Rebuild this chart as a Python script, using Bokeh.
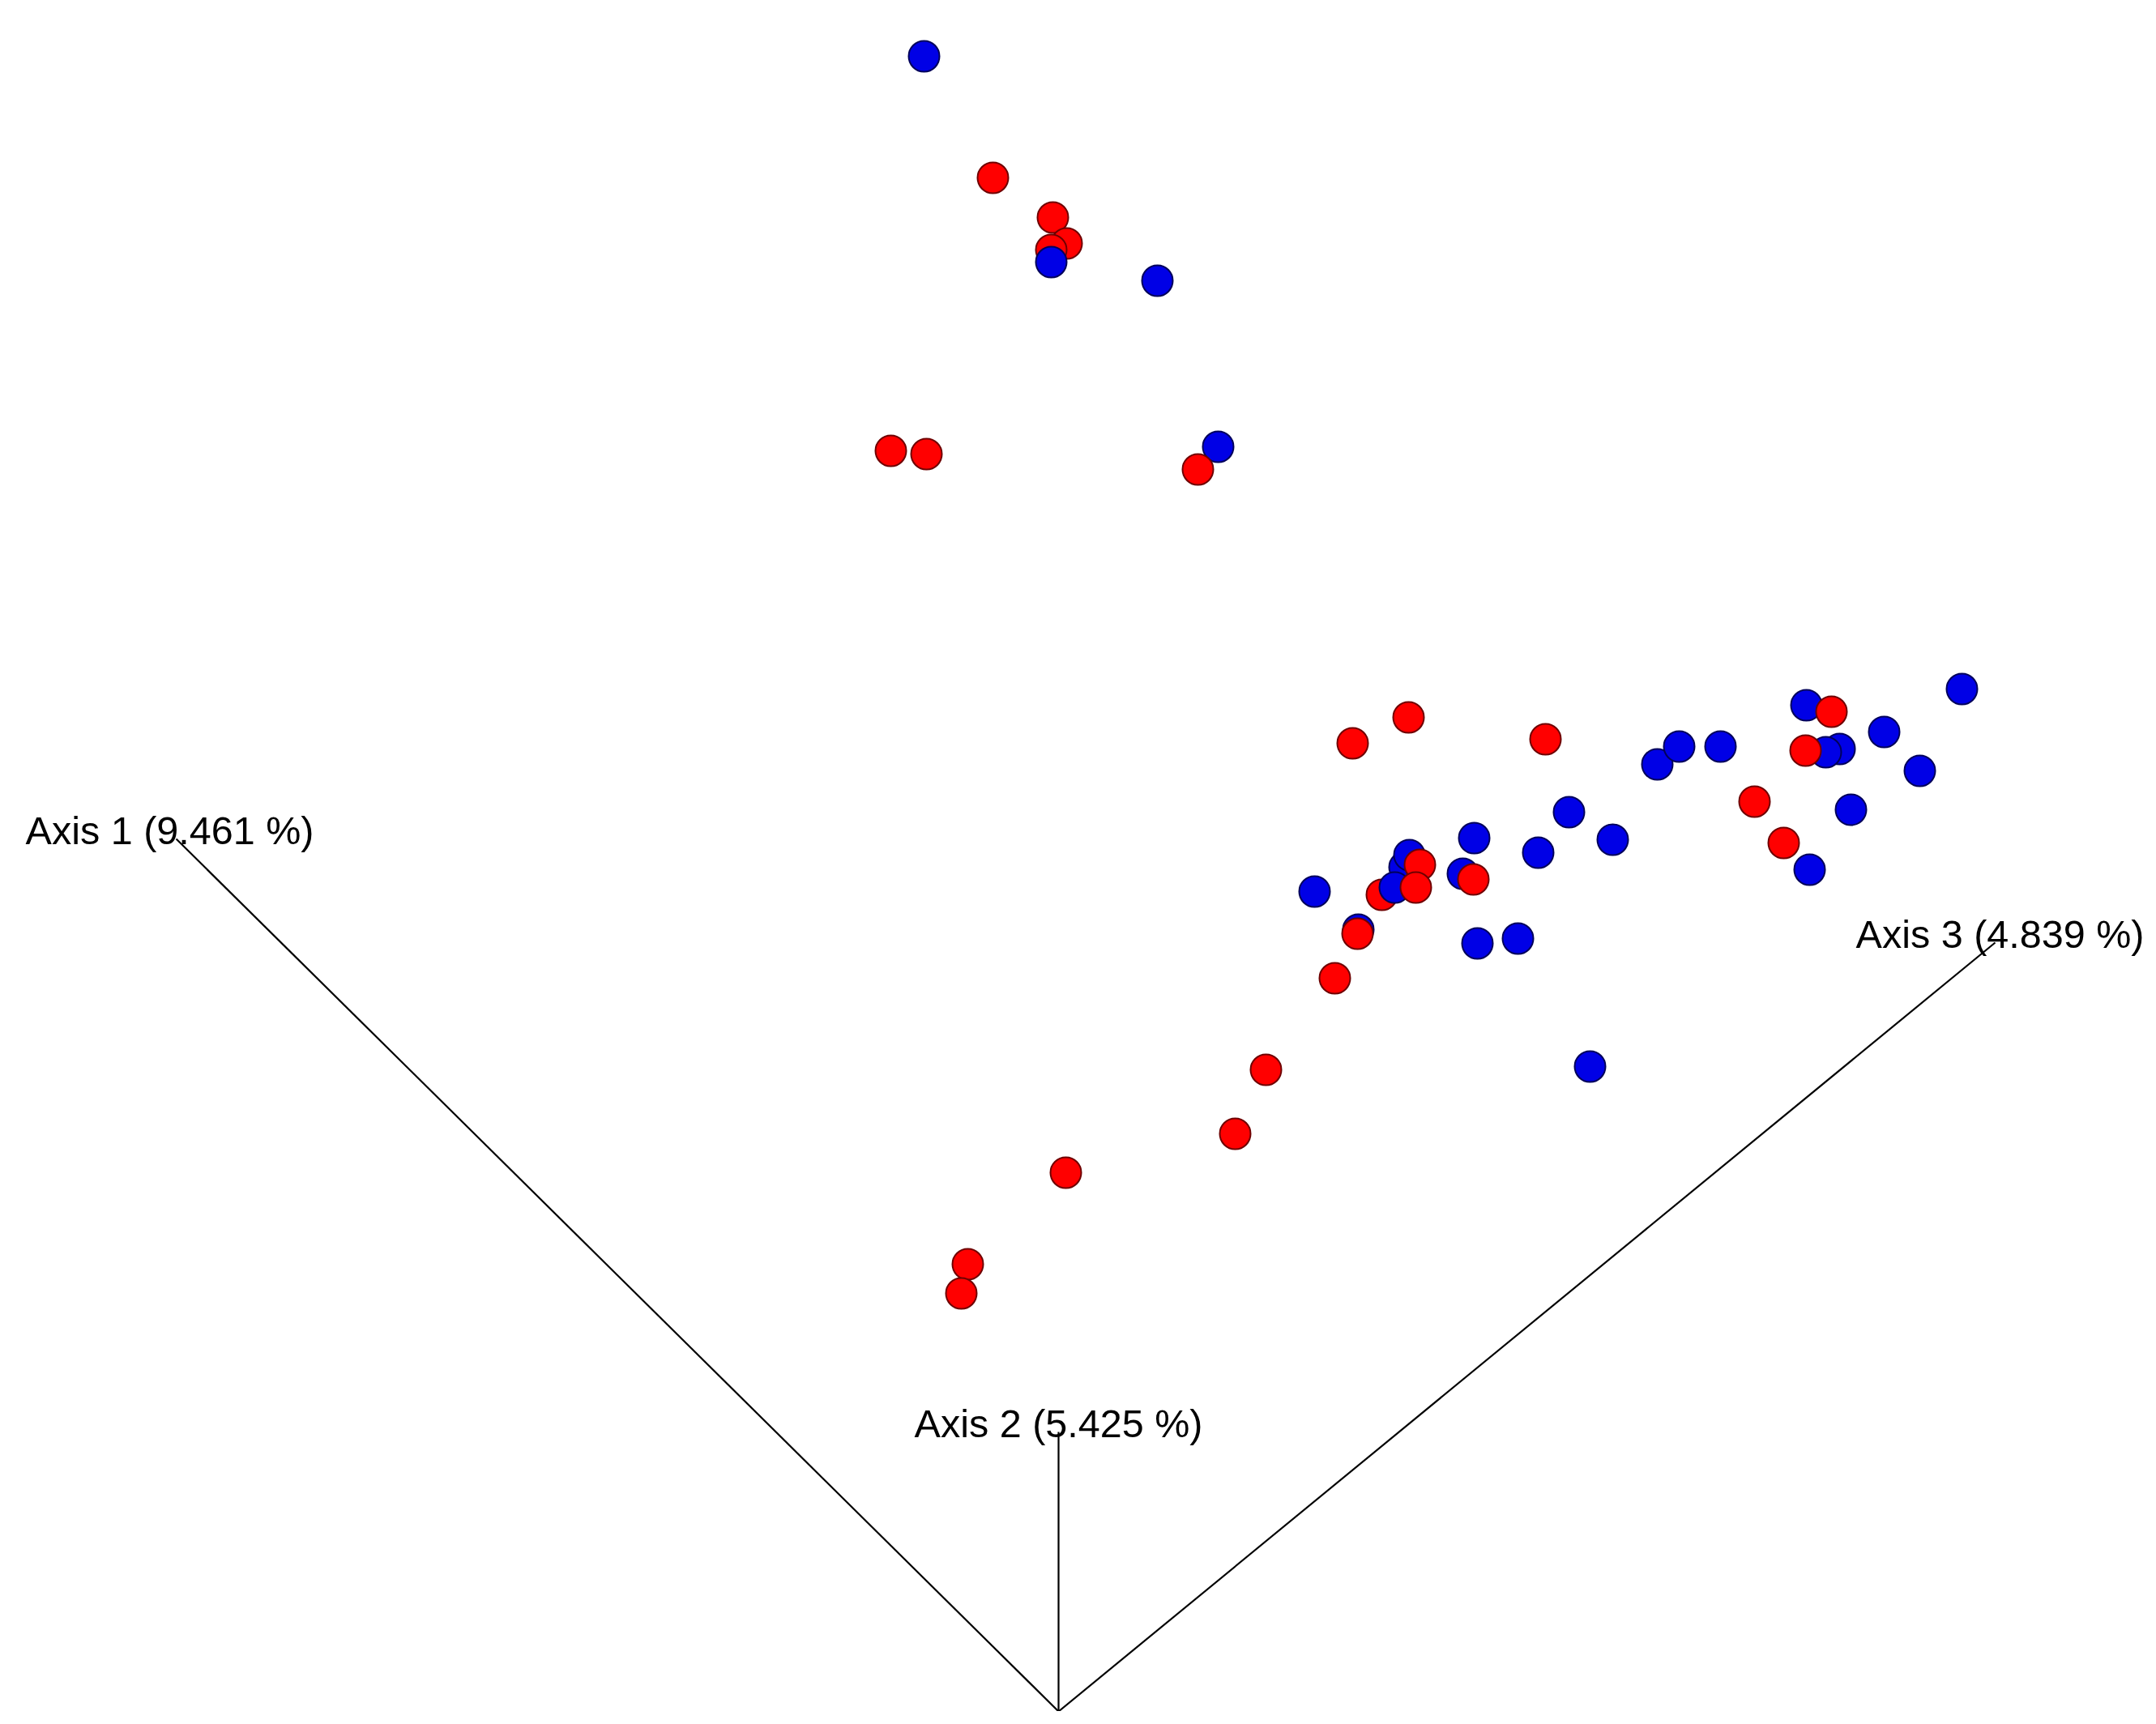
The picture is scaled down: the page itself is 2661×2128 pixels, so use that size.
from bokeh.plotting import figure
from bokeh.models import ColumnDataSource, Range1d
from bokeh.transform import factor_cmap
from bokeh.core.properties import value
from bokeh.embed import file_html
from bokeh.resources import INLINE

# ---- data: projected PCoA coordinates (origin of the 3-D axes = 0,0) ----
proj_x = [-0.166, -0.081, -0.007, 0.010, -0.009, -0.009, 0.122,
          -0.207, -0.163, 0.197, 0.172,
          0.363, 0.432, 0.601, 0.739, 0.766, 0.817, 0.630, 0.684,
          0.513, 0.592, 0.427, 0.433, 0.399, 0.415, 0.446, 0.441,
          0.499, 0.512, 0.316, 0.370, 0.369, 0.517, 0.567, 0.341,
          1.115, 0.923, 0.954, 1.019, 0.964, 0.947, 0.922, 1.063,
          0.859, 0.978, 0.895, 0.927,
          0.656, 0.256, 0.218, 0.009, -0.112, -0.120]
proj_y = [2.043, 1.893, 1.844, 1.812, 1.804, 1.789, 1.766,
          1.556, 1.552, 1.561, 1.533,
          1.195, 1.227, 1.200, 1.169, 1.191, 1.191, 1.110, 1.076,
          1.078, 1.060, 1.042, 1.057, 1.008, 1.017, 1.045, 1.017,
          1.034, 1.027, 1.012, 0.965, 0.960, 0.948, 0.954, 0.905,
          1.262, 1.242, 1.234, 1.209, 1.188, 1.184, 1.186, 1.161,
          1.123, 1.113, 1.072, 1.039,
          0.796, 0.792, 0.713, 0.665, 0.552, 0.516]
group = ["B", "R", "R", "R", "R", "B", "B",
         "R", "R", "B", "R",
         "R", "R", "R", "B", "B", "B", "B", "B",
         "B", "B", "B", "B", "R", "B", "R", "R",
         "B", "R", "B", "B", "R", "B", "B", "R",
         "B", "B", "R", "B", "B", "B", "R", "B",
         "R", "B", "R", "B",
         "B", "R", "R", "R", "R", "R"]

axis_labels = ["Axis 1 (9.461 %)", "Axis 2 (5.425 %)", "Axis 3 (4.839 %)"]
axis_end_x = [-1.089, 0.0, 1.156]
axis_end_y = [1.077, 0.345, 0.949]
origin_x, origin_y = 0.0, 0.0
label_dx = [-8, 0, 6]   # small pixel nudges of the labels

groups = ["B", "R"]
fill_colors = ["#0000E6", "#FF0000"]
line_colors = ["#00005A", "#6E0000"]

W, H = 2645, 2112
p = figure(width=W, height=H, output_backend="svg", toolbar_location=None,
           x_range=Range1d(-1.306, 1.339), y_range=Range1d(0.0, 2.112),
           min_border=0, min_border_left=0, min_border_right=0,
           min_border_top=0, min_border_bottom=0)
p.axis.visible = False
p.grid.visible = False
p.outline_line_color = None
p.background_fill_color = "white"
p.border_fill_color = "white"

# axes lines
for ex, ey in zip(axis_end_x, axis_end_y):
    p.line([origin_x, ex], [origin_y, ey], line_color="black", line_width=2.2)

lab = ColumnDataSource(dict(x=axis_end_x, y=axis_end_y, t=axis_labels, dx=label_dx))
p.text(x="x", y="y", text="t", source=lab, text_align="center",
       text_baseline="alphabetic", x_offset="dx", y_offset=-11,
       text_font=value("Liberation Sans"), text_font_size="48.5px",
       text_color="black")

src = ColumnDataSource(dict(x=proj_x, y=proj_y, g=group))
p.scatter(x="x", y="y", source=src, size=38, marker="circle",
          fill_color=factor_cmap("g", fill_colors, groups),
          line_color=factor_cmap("g", line_colors, groups),
          line_width=2)

open("out.html", "w").write(file_html(p, INLINE))
